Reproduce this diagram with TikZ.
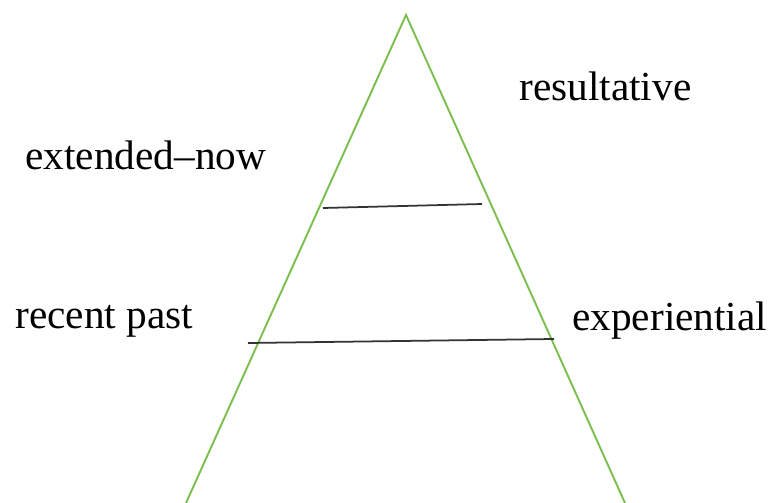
\documentclass[tikz,border=0pt]{standalone}
\usepackage{fontspec}
\setmainfont{Liberation Serif}
\usetikzlibrary{positioning}
\definecolor{sidegreen}{RGB}{125,190,80}

\begin{document}
\begin{tikzpicture}[x=0.02cm,y=-0.02cm,
  side/.style={draw=sidegreen,line width=1.1pt},
  rung/.style={draw=black!80,line width=1pt},
  lab/.style={anchor=base west,inner sep=0pt,font=\fontsize{23.5}{28}\selectfont}]
  \useasboundingbox (0,0) rectangle (771,503);
  % the triangle
  \coordinate (top) at (406,15);
  \coordinate (footL) at (186,503);
  \coordinate (footR) at (625,503);
  \draw[side] (footL) -- (top) -- (footR);
  % the two cross lines
  \coordinate (u1) at (323,208); \coordinate (u2) at (482,204);
  \coordinate (l1) at (248,343); \coordinate (l2) at (554,339);
  \draw[rung] (u1) -- (u2);
  \draw[rung] (l1) -- (l2);
  % labels
  \node[lab] (res) at (519,101) {resultative};
  \node[lab] (ext) at (25,170) {extended--now};
  \node[lab] (rec) at (15,329) {recent past};
  \node[lab] (exp) at (572,331) {experiential};
\end{tikzpicture}
\end{document}
